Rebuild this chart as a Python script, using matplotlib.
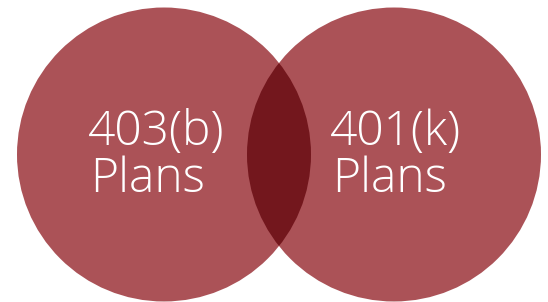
import matplotlib.pyplot as plt
from matplotlib.patches import Circle

# Venn diagram: 403(b) vs 401(k) plans
set_names = ['403(b)', '401(k)']
set_suffix = ['Plans', 'Plans']

circle_color = '#ab5257'
overlap_color = '#73171d'

# layout in pixel coords (image is 548x302)
centers = [(164, 154.5), (394, 154.5)]
radius = 147
text_x = [88, 330]
line1_y = 145
line2_y = 192

fig = plt.figure(figsize=(5.48, 3.02), dpi=100)
ax = fig.add_axes([0, 0, 1, 1])
ax.set_xlim(0, 548)
ax.set_ylim(302, 0)
ax.set_aspect('equal')
ax.axis('off')

for c in centers:
    ax.add_patch(Circle(c, radius, facecolor=circle_color, edgecolor='none', zorder=1))

# overlap: second circle drawn dark, clipped by the first one
clip = Circle(centers[0], radius, transform=ax.transData, facecolor='none', edgecolor='none')
ax.add_patch(clip)
lens = Circle(centers[1], radius, facecolor=overlap_color, edgecolor='none', zorder=2)
ax.add_patch(lens)
lens.set_clip_path(clip)

for i in range(len(set_names)):
    ax.text(text_x[i], line1_y, set_names[i], color='white', fontsize=34.5,
            family='Open Sans', weight='light', ha='left', va='baseline', zorder=3)
    ax.text(text_x[i] + 2, line2_y, set_suffix[i], color='white', fontsize=34.5,
            family='Open Sans', weight='light', ha='left', va='baseline', zorder=3)

fig.savefig('out.png', dpi=100)
